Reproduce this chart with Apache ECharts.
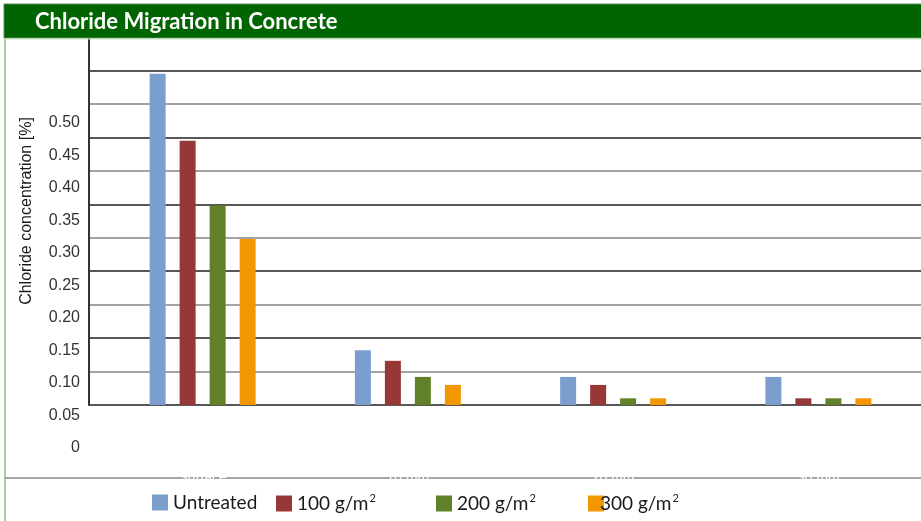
<!DOCTYPE html>
<html>
<head>
<meta charset="utf-8">
<script src="https://cdn.jsdelivr.net/npm/echarts@6/dist/echarts.min.js"></script>
<style>
html,body{margin:0;padding:0;background:#fff;}
#chart{width:921px;height:521px;}
</style>
</head>
<body>
<div id="chart"></div>
<script>
// ---- data ----
var categories = ['Surface', '10 mm', '20 mm', '30 mm'];
var seriesNames = ['Untreated', '100 g/m²', '200 g/m²', '300 g/m²'];
var untreated = [0.495, 0.082, 0.042, 0.042];
var g100 = [0.395, 0.066, 0.030, 0.010];
var g200 = [0.298, 0.042, 0.010, 0.010];
var g300 = [0.248, 0.030, 0.010, 0.010];
var yTickLabels = ['0', '0.05', '0.10', '0.15', '0.20', '0.25', '0.30', '0.35', '0.40', '0.45', '0.50'];
var titleText = 'Chloride Migration in Concrete';
var yAxisTitle = 'Chloride concentration [%]';

var colors = ['#7B9ECF', '#953836', '#61802A', '#F39700'];
var seriesData = [untreated, g100, g200, g300];
var legendLeft = [152, 276, 436, 588];

var chart = echarts.init(document.getElementById('chart'), null, {renderer: 'canvas'});

var series = seriesNames.map(function (n, i) {
  return {
    name: n, type: 'bar', xAxisIndex: 1, yAxisIndex: 1,
    data: seriesData[i], barWidth: 16, barGap: '87.5%',
    itemStyle: {color: colors[i]}, z: 3
  };
});

var legends = seriesNames.map(function (n, i) {
  return {
    data: [n], left: legendLeft[i], top: 493, padding: 0,
    itemWidth: 16, itemHeight: 16, icon: 'rect', itemGap: 0,
    textStyle: {
      fontFamily: 'Lato', fontSize: 19, color: '#1a1a1a',
      padding: i === 3 ? [0, 0, 0, -9] : [0, 0, 0, 0],
      rich: {sup: {fontFamily: 'Lato', fontSize: 11, color: '#1a1a1a', verticalAlign: 'top', padding: [0, 0, 10, 1]}}
    },
    formatter: function (name) { return name.replace('²', '{sup|2}'); }
  };
});

var option = {
  animation: false,
  backgroundColor: '#fff',
  title: {
    text: titleText, left: 35, top: 11, padding: 0, z: 20,
    textStyle: {fontFamily: 'Lato', fontWeight: 'bold', fontSize: 22, color: '#fff'}
  },
  legend: legends,
  grid: [
    {left: 89, right: 0, top: 37, bottom: 116},
    {left: 100, right: -2, top: 37, bottom: 116},
    {left: 89, right: 0, top: 123, bottom: 73}
  ],
  xAxis: [
    {type: 'value', gridIndex: 0, show: false},
    {type: 'category', gridIndex: 1, data: categories,
     axisLine: {show: false}, axisTick: {show: false}, z: 10,
     axisLabel: {color: '#ffffff', fontFamily: 'Liberation Sans', fontSize: 14, margin: 66}},
    {type: 'value', gridIndex: 2, show: false}
  ],
  yAxis: [
    {type: 'value', gridIndex: 0, min: 0, max: 0.55, interval: 0.05,
     axisLabel: {show: false}, axisTick: {show: false},
     axisLine: {show: true, lineStyle: {color: '#333', width: 2}},
     splitLine: {show: true, lineStyle: {color: ['#1f1f1f', '#858585'], width: 1.6}}},
    {type: 'value', gridIndex: 1, min: 0, max: 0.55, interval: 0.05, show: false},
    {type: 'category', gridIndex: 2, data: yTickLabels, boundaryGap: false,
     axisLine: {show: false}, axisTick: {show: false}, splitLine: {show: false},
     axisLabel: {color: '#333333', fontFamily: 'Liberation Sans', fontSize: 16, margin: 9}}
  ],
  graphic: [
    {type: 'rect', z: 15, shape: {x: 4, y: 4, width: 920, height: 34},
     style: {fill: '#006400', stroke: '#4f8f4f', lineWidth: 1}},
    {type: 'line', z: 15, shape: {x1: 4, y1: 39, x2: 921, y2: 39},
     style: {stroke: '#c8e6c8', lineWidth: 1}},
    {type: 'line', z: 1, shape: {x1: 5, y1: 38, x2: 5, y2: 521},
     style: {stroke: '#86bf86', lineWidth: 1.5}},
    {type: 'line', z: 0, shape: {x1: 5, y1: 478, x2: 921, y2: 478},
     style: {stroke: '#a6a6a6', lineWidth: 2}},
    {type: 'text', z: 5, x: 27, y: 211, rotation: Math.PI / 2,
     style: {text: yAxisTitle, fontFamily: 'Liberation Sans', fontSize: 16, fill: '#1a1a1a',
             textAlign: 'center', textVerticalAlign: 'middle'}}
  ],
  series: series
};
chart.setOption(option);
</script>
</body>
</html>
